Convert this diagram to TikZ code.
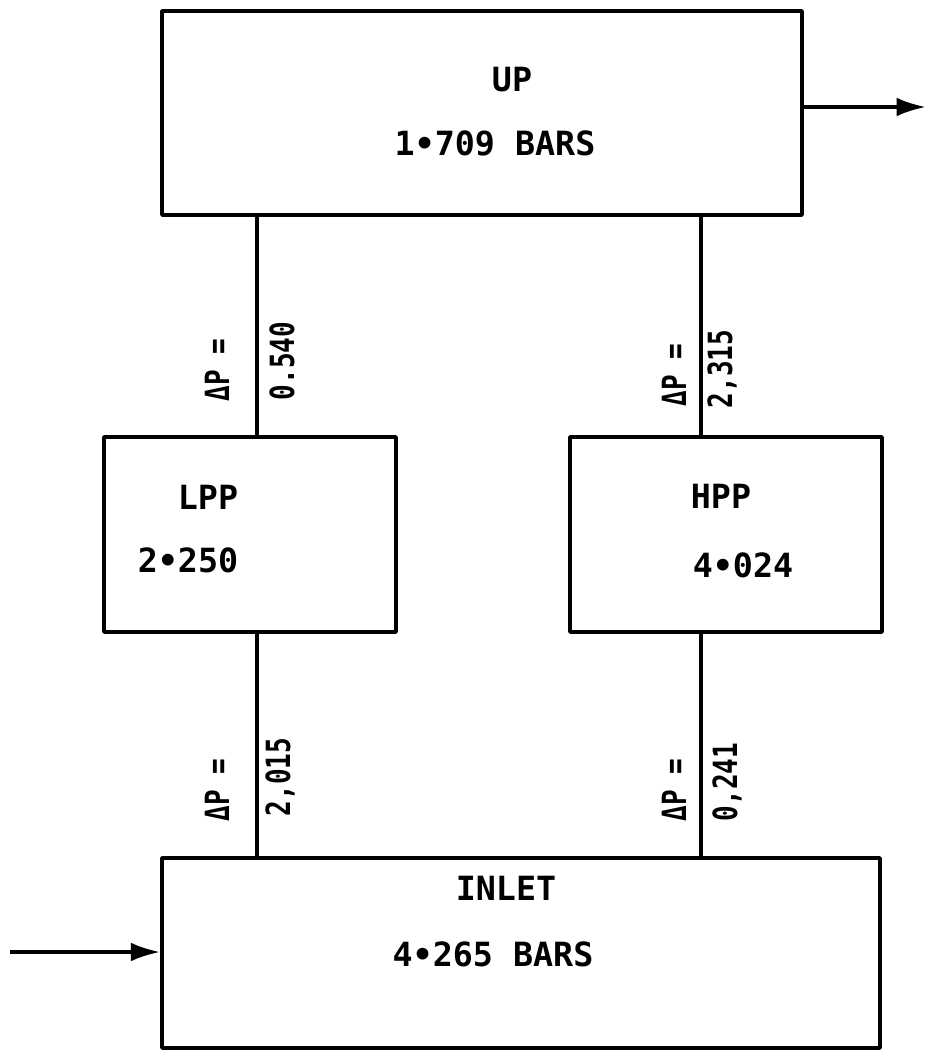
\documentclass[tikz,border=0pt]{standalone}
\usepackage{fontspec}
\setmainfont{DejaVu Sans Mono}
\usetikzlibrary{fit,arrows.meta}
\newcommand{\narrow}[1]{\scalebox{0.78}[1]{#1}}
\tikzset{
  box/.style={draw, line width=2.6pt, inner sep=0pt, line join=round},
  conn/.style={line width=2.8pt},
  arr/.style={line width=2.8pt, -{Latex[length=22pt,width=14pt]}},
  lbl/.style={font=\bfseries\fontsize{25}{30}\selectfont, inner sep=0pt},
  dlbl/.style={font=\bfseries\fontsize{25}{30}\selectfont, inner sep=0pt, rotate=90},
}
\begin{document}
\begin{tikzpicture}[x=0.75pt,y=-0.75pt]
\useasboundingbox (0,0) rectangle (926,1052);
% boxes
\node[box, fit={(162,11) (802,215)}] (up) {};
\node[box, fit={(104,437) (396,632)}] (lpp) {};
\node[box, fit={(570,437) (882,632)}] (hpp) {};
\node[box, fit={(162,858) (880,1048)}] (inlet) {};
% texts
\node[lbl] (tup) at (512,80) {UP};
\node[lbl] (tupv) at (495,143) {1•709 BARS};
\node[lbl] (tlpp) at (208,497) {LPP};
\node[lbl] (tlppv) at (188,560) {2•250};
\node[lbl] (thpp) at (721,496) {HPP};
\node[lbl] (thppv) at (743,565) {4•024};
\node[lbl] (tin) at (506,888) {INLET};
\node[lbl] (tinv) at (493,954) {4•265 BARS};
% connector x positions
\coordinate (xl) at (257,0);
\coordinate (xr) at (701,0);
\draw[conn] (up.south -| xl) -- (lpp.north -| xl);
\draw[conn] (up.south -| xr) -- (hpp.north -| xr);
\draw[conn] (lpp.south -| xl) -- (inlet.north -| xl);
\draw[conn] (hpp.south -| xr) -- (inlet.north -| xr);
% delta-P labels
\node[dlbl] (d1) at (217,370) {\narrow{ΔP =}};
\node[dlbl] (v1) at (282,361) {\narrow{0.540}};
\node[dlbl] (d2) at (674,375) {\narrow{ΔP =}};
\node[dlbl] (v2) at (722,369) {\narrow{2,315}};
\node[dlbl] (d3) at (217,790) {\narrow{ΔP =}};
\node[dlbl] (v3) at (280,777) {\narrow{2,015}};
\node[dlbl] (d4) at (674,790) {\narrow{ΔP =}};
\node[dlbl] (v4) at (727,782) {\narrow{0,241}};
% arrows
\coordinate (out) at (926,107);
\coordinate (in) at (10,952);
\draw[arr] (up.east |- out) -- (out);
\draw[arr] (in) -- (in -| inlet.west);
\end{tikzpicture}
\end{document}
